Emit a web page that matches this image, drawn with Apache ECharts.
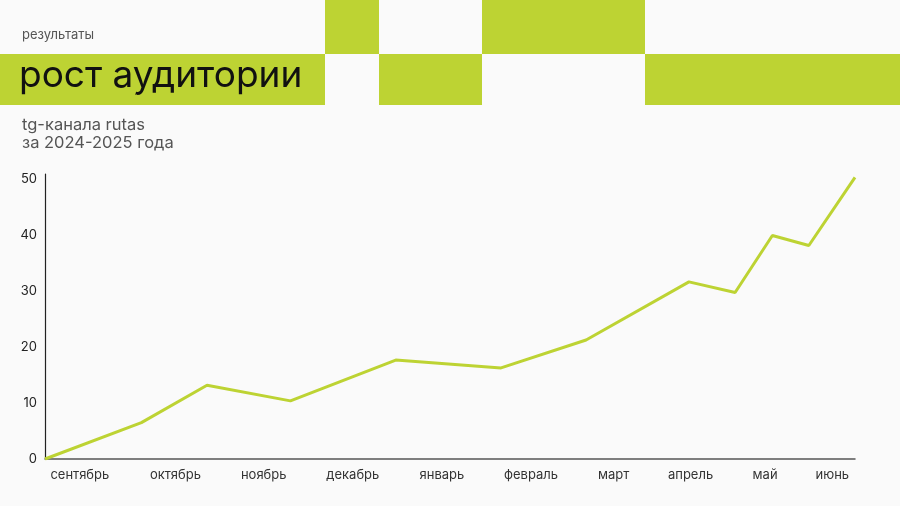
<!DOCTYPE html>
<html>
<head>
<meta charset="utf-8">
<script src="https://cdn.jsdelivr.net/npm/echarts@6/dist/echarts.min.js"></script>
<style>
html,body{margin:0;padding:0;background:#fafafa;}
#c{width:900px;height:506px;}
</style>
</head>
<body>
<div id="c"></div>
<script>
// Month labels and their positions along the time axis (0–100 = axis span)
const months = ['сентябрь','октябрь','ноябрь','декабрь','январь','февраль','март','апрель','май','июнь'];
const monthPos = [4.3, 16.1, 27.0, 38.0, 49.0, 60.0, 70.2, 79.7, 88.9, 97.2];
// Audience growth points: position along time axis and value
const pointX = [0, 11.9, 20.0, 30.3, 43.3, 56.3, 66.8, 79.5, 85.2, 89.8, 94.3, 100];
const pointY = [0, 6.5, 13.2, 10.4, 17.7, 16.3, 21.3, 31.7, 29.8, 40.0, 38.2, 50.4];
const yTicks = [0, 10, 20, 30, 40, 50];

const GREEN = '#bdd333';
const FONT = 'Inter, "Noto Sans", sans-serif';

const chart = echarts.init(document.getElementById('c'), null, {renderer: 'canvas'});
chart.setOption({
  backgroundColor: '#fafafa',
  animation: false,
  grid: {left: 45, right: 45, top: 174, bottom: 47},
  xAxis: {
    type: 'value', min: 0, max: 100,
    splitLine: {show: false},
    axisLine: {show: true, lineStyle: {color: '#555', width: 1.5}},
    axisTick: {show: false},
    axisLabel: {
      customValues: monthPos,
      formatter: v => months[monthPos.indexOf(v)] || '',
      color: '#333', fontSize: 13, fontFamily: FONT, margin: 10
    }
  },
  yAxis: {
    type: 'value', min: 0, max: 51,
    splitLine: {show: false},
    axisLine: {show: true, lineStyle: {color: '#222', width: 1.2}},
    axisTick: {show: false},
    axisLabel: {
      customValues: yTicks,
      color: '#222', fontSize: 13, fontFamily: FONT, margin: 8,
      padding: [0, 0, 6, 0]
    }
  },
  series: [{
    type: 'line',
    data: pointX.map((x, i) => [x, pointY[i]]),
    showSymbol: false,
    lineStyle: {color: GREEN, width: 3},
    z: 3
  }],
  graphic: [
    {type: 'rect', shape: {x: 0, y: 54, width: 325, height: 51}, style: {fill: GREEN}},
    {type: 'rect', shape: {x: 325, y: 0, width: 54, height: 54}, style: {fill: GREEN}},
    {type: 'rect', shape: {x: 379, y: 54, width: 103, height: 51}, style: {fill: GREEN}},
    {type: 'rect', shape: {x: 482, y: 0, width: 163, height: 54}, style: {fill: GREEN}},
    {type: 'rect', shape: {x: 645, y: 54, width: 255, height: 51}, style: {fill: GREEN}},
    {type: 'text', left: 22, top: 29, style: {text: 'результаты', fill: '#555', font: '13px ' + FONT}},
    {type: 'text', left: 19, top: 57, style: {text: 'рост аудитории', fill: '#111', font: '37px ' + FONT}},
    {type: 'text', left: 22, top: 116, style: {text: 'tg-канала rutas\nза 2024-2025 года', fill: '#555', font: '16.5px ' + FONT, lineHeight: 18}}
  ]
});
</script>
</body>
</html>
